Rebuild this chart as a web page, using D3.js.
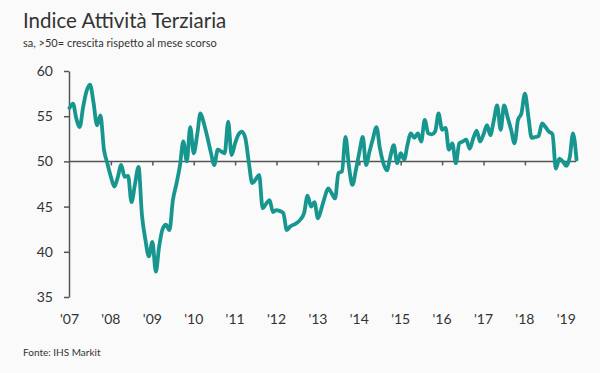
<!DOCTYPE html>
<html>
<head>
<meta charset="utf-8">
<script src="https://cdn.jsdelivr.net/npm/d3@7"></script>
<style>
  body { margin: 0; background: #fafafa; }
  svg { display: block; font-family: Lato, "Open Sans", sans-serif; }
</style>
</head>
<body>
<div id="chart"></div>
<script>
const LINE_COLOR = "#17968f";
const AXIS_COLOR = "#555";
const TEXT_COLOR = "#333";

const title = "Indice Attività Terziaria";
const subtitle = "sa, >50= crescita rispetto al mese scorso";
const source = "Fonte: IHS Markit";

// monthly values, Jan 2007 - Apr 2019
const firstMonth = new Date(2007, 0, 1);
const pmiValues = [
  55.9, 56.4, 54.8, 53.8, 56.0, 57.8, 58.5, 56.5, 54.0, 55.1, 51.3, 49.8,
  48.3, 47.2, 48.2, 49.6, 48.3, 48.4, 45.5, 47.5, 49.4, 44.1, 41.3, 39.5,
  41.1, 37.8, 40.5, 42.5, 43.0, 42.4, 45.7, 47.5, 49.5, 52.2, 50.0, 53.8,
  50.9, 53.0, 55.3, 54.2, 52.7, 51.0, 49.6, 51.3, 51.1, 50.9, 54.4, 50.7,
  52.0, 53.0, 53.3, 52.6, 50.0, 47.6, 48.0, 48.5, 44.8, 45.3, 45.7, 44.4,
  44.6, 44.5, 44.3, 42.4, 42.8, 43.0, 43.2, 43.6, 44.3, 46.2, 45.0, 45.5,
  43.7, 44.8, 46.0, 47.0, 46.5, 45.9, 48.7, 48.9, 52.7, 49.5, 47.4, 49.0,
  51.0, 52.7, 49.6, 51.1, 52.5, 53.8, 51.5, 49.8, 49.0, 50.5, 51.8, 49.8,
  50.9, 50.2, 51.8, 53.1, 52.6, 53.1, 52.2, 54.6, 53.1, 53.0, 53.3, 55.3,
  53.5, 53.7, 51.3, 52.0, 49.8, 52.0, 52.2, 52.4, 51.4, 52.5, 53.4, 52.2,
  53.0, 54.0, 52.9, 54.5, 56.2, 53.5, 56.2, 54.9, 53.5, 52.0, 54.6, 55.3,
  57.5, 54.9, 52.6, 52.7, 52.8, 54.2, 53.8, 53.3, 53.0, 49.2, 50.3, 50.0,
  49.5, 50.5, 53.1, 50.2
];
const yearTicks = [2007, 2008, 2009, 2010, 2011, 2012, 2013, 2014, 2015, 2016, 2017, 2018, 2019];
const yTicks = [35, 40, 45, 50, 55, 60];
const baseline = 50;

let width = 600;
let height = 373;

let data = pmiValues.map(function (v, i) {
  return { date: d3.timeMonth.offset(firstMonth, i), value: v };
});

let x = d3.scaleTime()
  .domain([new Date(2007, 0, 1), new Date(2019, 0, 1)])
  .range([69.5, 566.3]);

let y = d3.scaleLinear()
  .domain([35, 60])
  .range([297, 71]);

let svg = d3.select("#chart")
  .append("svg")
  .attr("width", width)
  .attr("height", height);

svg.append("rect")
  .attr("width", width)
  .attr("height", height)
  .attr("fill", "#fafafa");

svg.append("text")
  .attr("x", 23)
  .attr("y", 28)
  .attr("font-size", "20.5px")
  .attr("fill", TEXT_COLOR)
  .text(title);

svg.append("text")
  .attr("x", 23)
  .attr("y", 47)
  .attr("font-size", "11px")
  .attr("fill", TEXT_COLOR)
  .text(subtitle);

// y axis
let yAxis = svg.append("g")
  .attr("transform", "translate(69,0)")
  .call(d3.axisLeft(y).tickValues(yTicks).tickSize(5).tickSizeOuter(0).tickPadding(11));
yAxis.select(".domain").attr("stroke", AXIS_COLOR).attr("stroke-width", 1.5);
yAxis.selectAll(".tick line").attr("stroke", AXIS_COLOR).attr("stroke-width", 1.5);
yAxis.selectAll("text")
  .attr("font-size", "14px")
  .attr("font-family", "Lato, sans-serif")
  .attr("fill", TEXT_COLOR);

// line at 50 with year ticks hanging below it
let xAxis = svg.append("g")
  .attr("transform", "translate(0," + y(baseline) + ")")
  .call(d3.axisBottom(x)
    .tickValues(yearTicks.slice(1).map(function (yr) { return new Date(yr, 0, 1); }))
    .tickSize(4)
    .tickSizeOuter(0)
    .tickFormat(""));
xAxis.select(".domain")
  .attr("d", "M69," + 0 + "H576")
  .attr("stroke", AXIS_COLOR)
  .attr("stroke-width", 1.5);
xAxis.selectAll(".tick line").attr("stroke", AXIS_COLOR).attr("stroke-width", 1.5);

// year labels under the plot
svg.append("g")
  .selectAll("text")
  .data(yearTicks)
  .join("text")
  .attr("x", function (d) { return x(new Date(d, 0, 1)); })
  .attr("y", 324)
  .attr("text-anchor", "middle")
  .attr("font-size", "14px")
  .attr("fill", TEXT_COLOR)
  .text(function (d) { return "'" + String(d).slice(2); });

let line = d3.line()
  .x(function (d) { return x(d.date); })
  .y(function (d) { return y(d.value); })
  .curve(d3.curveMonotoneX);

svg.append("path")
  .datum(data)
  .attr("d", line)
  .attr("fill", "none")
  .attr("stroke", LINE_COLOR)
  .attr("stroke-width", 3.8)
  .attr("stroke-linejoin", "round")
  .attr("stroke-linecap", "round");

svg.append("text")
  .attr("x", 23)
  .attr("y", 356)
  .attr("font-size", "10px")
  .attr("fill", TEXT_COLOR)
  .text(source);
</script>
</body>
</html>
